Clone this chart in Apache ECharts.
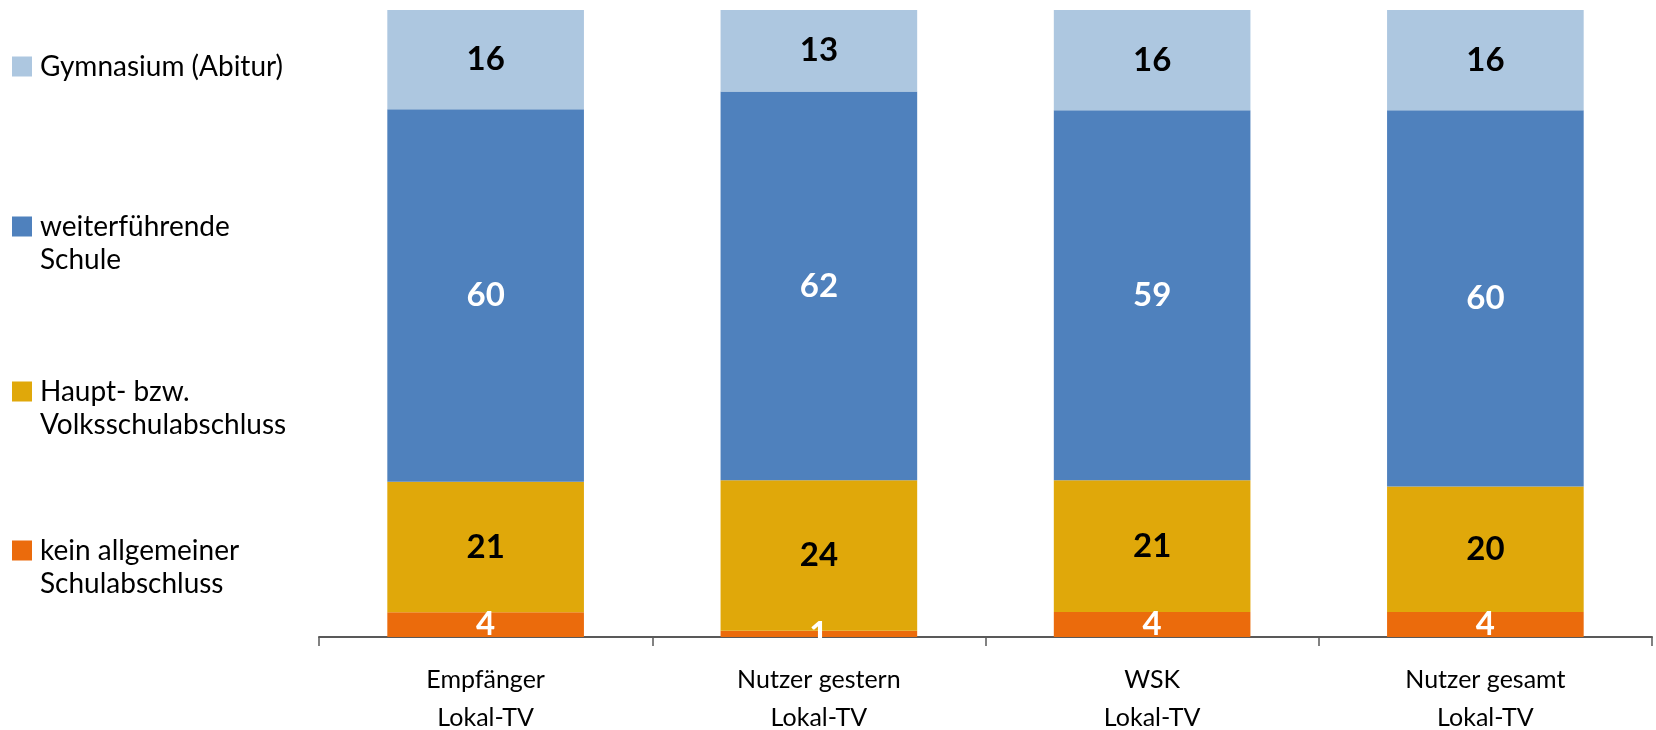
<!DOCTYPE html>
<html>
<head>
<meta charset="utf-8">
<script src="https://cdn.jsdelivr.net/npm/echarts@6/dist/echarts.min.js"></script>
<style>
  html, body { margin: 0; padding: 0; background: #fff; }
  #chart { width: 1656px; height: 730px; }
</style>
</head>
<body>
<div id="chart"></div>
<script>
  // Kategorien der x-Achse
  const categories = ["Empfänger\nLokal-TV", "Nutzer gestern\nLokal-TV", "WSK\nLokal-TV", "Nutzer gesamt\nLokal-TV"];

  // Werte in %, von unten nach oben gestapelt
  const keinAbschluss = [4, 1, 4, 4];
  const hauptschule = [21, 24, 21, 20];
  const weiterfuehrend = [60, 62, 59, 60];
  const gymnasium = [16, 13, 16, 16];

  const seriesNames = ["kein allgemeiner\nSchulabschluss", "Haupt- bzw.\nVolksschulabschluss", "weiterführende\nSchule", "Gymnasium (Abitur)"];
  const seriesValues = [keinAbschluss, hauptschule, weiterfuehrend, gymnasium];
  const seriesColors = ["#eb6b0c", "#e0a80a", "#4f81bd", "#adc7e0"];
  const labelColors = ["#ffffff", "#000000", "#ffffff", "#000000"];

  // Legende von oben nach unten
  const legendNames = ["Gymnasium (Abitur)", "weiterführende\nSchule", "Haupt- bzw.\nVolksschulabschluss", "kein allgemeiner\nSchulabschluss"];
  const legendTops = [50, 210, 375, 534];

  // Quadrat oben, damit es auf Höhe der ersten Textzeile sitzt
  const iconOneLine = "path://M0 0H20V20H0Z";
  const iconTwoLines = "path://M0 0H20V20H0Z M0 53L0.01 53";

  // 100%-Stapel: jede Säule auf ihre Summe normieren
  const totals = categories.map((c, i) => seriesValues.reduce((s, arr) => s + arr[i], 0));

  let myChart = echarts.init(document.getElementById("chart"));
  let option = {
    animation: false,
    textStyle: { fontFamily: "Lato" },
    grid: { left: 319, right: 4, top: 10, bottom: 93, outerBoundsMode: "none", containLabel: false },
    legend: legendNames.map((name, i) => ({
      data: [name],
      left: 12,
      top: legendTops[i],
      orient: "vertical",
      padding: 0,
      itemWidth: 20,
      itemHeight: i === 0 ? 20 : 53,
      icon: i === 0 ? iconOneLine : iconTwoLines,
      selectedMode: false,
      textStyle: {
        fontFamily: "Lato",
        fontSize: 28,
        color: "#000",
        lineHeight: 33,
        padding: [0, 0, 0, 3],
      },
    })),
    xAxis: {
      type: "category",
      data: categories,
      axisLine: { lineStyle: { color: "#595959", width: 2 } },
      axisTick: { show: true, length: 9, lineStyle: { color: "#595959", width: 1.5 } },
      axisLabel: { fontFamily: "Lato", fontSize: 25, color: "#000", lineHeight: 38, margin: 24 },
    },
    yAxis: { type: "value", min: 0, max: 100, show: false },
    series: seriesNames.map((name, s) => ({
      name: name,
      type: "bar",
      stack: "total",
      barWidth: "59%",
      itemStyle: { color: seriesColors[s] },
      emphasis: { disabled: true },
      label: {
        show: true,
        position: "inside",
        fontFamily: "Lato",
        fontWeight: "bold",
        fontSize: 33,
        color: labelColors[s],
        formatter: (p) => seriesValues[s][p.dataIndex],
      },
      data: seriesValues[s].map((v, i) => (v / totals[i]) * 100),
    })),
  };
  myChart.setOption(option);
</script>
</body>
</html>
